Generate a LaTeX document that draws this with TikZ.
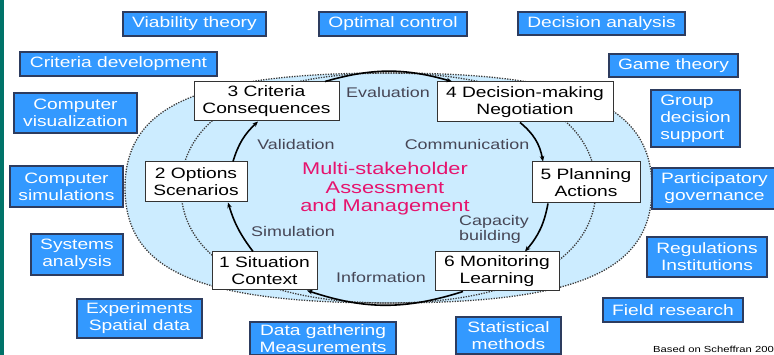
\documentclass[tikz,border=0pt]{standalone}
\usepackage{fontspec}
\setmainfont[FakeStretch=1.28]{Liberation Sans}
\usetikzlibrary{arrows.meta}
\definecolor{boxblue}{RGB}{51,153,255}
\definecolor{boxedge}{RGB}{45,60,95}
\definecolor{ellfill}{RGB}{204,236,255}
\definecolor{dotcol}{RGB}{60,60,60}
\definecolor{lblcol}{RGB}{70,70,85}
\definecolor{pinkc}{RGB}{230,20,110}
\definecolor{tealbar}{RGB}{0,115,105}
\begin{document}
\begin{tikzpicture}[x=1pt,y=1pt,
 bluebox/.style={draw=boxedge, line width=1.2pt, fill=boxblue, text=white, inner sep=0pt, align=center, font=\fontsize{15}{17}\selectfont},
 stepbox/.style={draw=gray!40!black, line width=1pt, fill=white, text=black, inner sep=0pt, align=center, font=\fontsize{15}{17}\selectfont},
 lbl/.style={text=lblcol, inner sep=0pt, font=\fontsize{14}{15}\selectfont},
 flow/.style={line width=1.6pt, -{Stealth[length=5.5pt,width=4.5pt]}},
 dotline/.style={draw=dotcol, line width=1.3pt, dash pattern=on 1.3pt off 1.3pt}]
\useasboundingbox (0,0) rectangle (774,355);
\clip (0,0) rectangle (774,355);
\fill[tealbar] (0,0) rectangle (4,355);
% outer and inner ovals
\path[fill=ellfill, dotline] (125,167) .. controls (125,167+82.8) and (388.5-189.7,282) .. (388.5,282)
  .. controls (388.5+189.7,282) and (652,167+82.8) .. (652,167)
  .. controls (652,167-82.8) and (388.5+189.7,52) .. (388.5,52)
  .. controls (388.5-189.7,52) and (125,167-82.8) .. cycle;
\path[dotline] (181,167) .. controls (181,167+71.3) and (388.5-128.7,282) .. (388.5,282)
  .. controls (388.5+128.7,282) and (596,167+71.3) .. (596,167)
  .. controls (596,167-71.3) and (388.5+128.7,52) .. (388.5,52)
  .. controls (388.5-128.7,52) and (181,167-71.3) .. cycle;
% blue method boxes
\node[bluebox, minimum width=143pt, minimum height=24pt] (viab) at (194.5,355-24) {Viability theory};
\node[bluebox, minimum width=148pt, minimum height=24pt] (optc) at (393,355-24) {Optimal control};
\node[bluebox, minimum width=167pt, minimum height=23pt] (deca) at (601.5,355-23.5) {Decision analysis};
\node[bluebox, minimum width=197pt, minimum height=24pt] (crit) at (118.5,355-64) {Criteria development};
\node[bluebox, minimum width=129pt, minimum height=23pt] (game) at (673.5,355-65.5) {Game theory};
\node[bluebox, minimum width=123pt, minimum height=40pt] (cvis) at (75.5,355-113) {Computer\\visualization};
\node[bluebox, align=left, minimum width=89pt, minimum height=57pt] (group) at (695.5,355-118.5) {Group\\decision\\support};
\node[bluebox, minimum width=113pt, minimum height=41pt] (csim) at (66.5,355-186.5) {Computer\\simulations};
\node[bluebox, minimum width=125pt, minimum height=41pt] (part) at (714.5,355-188.5) {Participatory\\governance};
\node[bluebox, minimum width=92pt, minimum height=41pt] (sys) at (77,355-254.5) {Systems\\analysis};
\node[bluebox, minimum width=120pt, minimum height=40pt] (reg) at (707,355-257) {Regulations\\Institutions};
\node[bluebox, minimum width=125pt, minimum height=39pt] (exp) at (139.5,355-318.5) {Experiments\\Spatial data};
\node[bluebox, minimum width=140pt, minimum height=24pt] (field) at (673,355-310) {Field research};
\node[bluebox, minimum width=146pt, minimum height=33pt] (data) at (323,355-338.5) {Data gathering\\Measurements};
\node[bluebox, minimum width=105pt, minimum height=37pt] (stat) at (508.5,355-335.5) {Statistical\\methods};
% cycle steps
\node[stepbox, minimum width=145pt, minimum height=39pt] (n3) at (266.5,355-101.5) {3 Criteria\\Consequences};
\node[stepbox, minimum width=176pt, minimum height=40pt] (n4) at (525,355-102) {4 Decision-making\\Negotiation};
\node[stepbox, minimum width=102pt, minimum height=40pt] (n2) at (196,355-182) {2 Options\\Scenarios};
\node[stepbox, minimum width=108pt, minimum height=41pt] (n5) at (586,355-182.5) {5 Planning\\Actions};
\node[stepbox, minimum width=105pt, minimum height=38pt] (n1) at (264.5,355-271) {1 Situation\\Context};
\node[stepbox, minimum width=124pt, minimum height=39pt] (n6) at (497,355-271.5) {6 Monitoring\\Learning};
% connectors
\draw[flow] ([xshift=-11.5pt]n1.north) to[bend left=10] ([xshift=32pt]n2.south);
\draw[flow] ([xshift=37pt]n2.north) to[bend left=15] ([xshift=-8.5pt]n3.south);
\draw[flow] ([xshift=58.5pt]n3.north) to[bend left=16] ([xshift=-73pt]n4.north);
\draw[flow] ([xshift=-5pt]n4.south) to[bend left=20] ([xshift=-43pt]n5.north);
\draw[flow] ([xshift=-38pt]n5.south) to[bend left=15] ([xshift=28pt]n6.north);
\draw[flow] ([xshift=-34pt]n6.south) to[bend left=18] ([xshift=42.5pt]n1.south);
% labels
\node[lbl] (leval) at (388,355-93) {Evaluation};
\node[lbl] (lvalid) at (296,355-145) {Validation};
\node[lbl] (lcomm) at (467,355-145) {Communication};
\node[lbl] (lsim) at (293,355-232) {Simulation};
\node[lbl, align=left, anchor=west] (lcap) at (459,355-229) {Capacity\\building};
\node[lbl] (linfo) at (381,355-278) {Information};
\node[text=pinkc, align=center, inner sep=0pt, font=\fontsize{17}{18.5}\selectfont] (centre) at (385,355-189) {Multi-stakeholder\\Assessment\\and Management};
\node[anchor=base west, inner sep=0pt, font=\fontsize{8.8}{10}\selectfont] (credit) at (653,2) {Based on Scheffran 200};
\end{tikzpicture}
\end{document}
